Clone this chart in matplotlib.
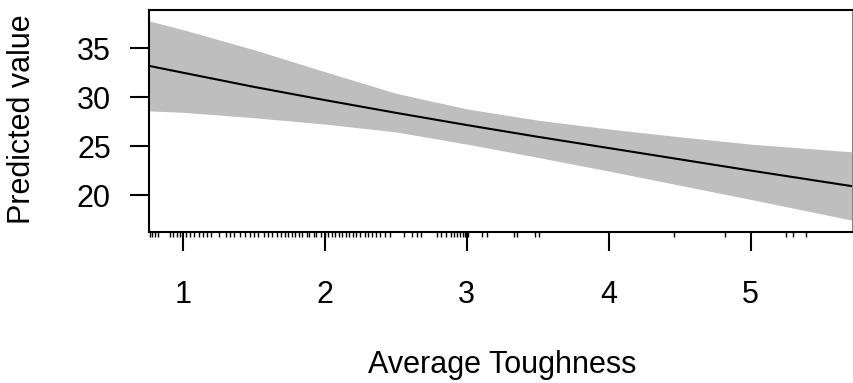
import numpy as np
import matplotlib
matplotlib.use('Agg')
import matplotlib.pyplot as plt

plt.rcParams['font.family'] = ['Liberation Sans', 'DejaVu Sans']

#effect curve for Average Toughness
tough = [0.76, 1.0, 1.5, 2.0, 2.5, 3.0, 3.5, 4.0, 4.5, 5.0, 5.725]
fit = [33.2, 32.5, 31.05, 29.7, 28.4, 27.15, 25.95, 24.8, 23.65, 22.5, 20.88]
upper = [37.8, 36.9, 34.85, 32.6, 30.4, 28.8, 27.65, 26.75, 25.95, 25.2, 24.4]
lower = [28.6, 28.45, 27.9, 27.25, 26.45, 25.2, 23.85, 22.45, 21.0, 19.55, 17.4]

#rug of observed values
rug = [0.77, 0.78, 0.80, 0.82, 0.91, 0.93, 0.96, 0.98, 1.02, 1.05, 1.08, 1.11,
       1.14, 1.17, 1.20, 1.25, 1.30, 1.33, 1.36, 1.40, 1.44, 1.47, 1.50, 1.53,
       1.57, 1.60, 1.63, 1.66, 1.69, 1.72, 1.74, 1.77, 1.79, 1.82, 1.84, 1.87,
       1.89, 1.92, 1.94, 1.97, 2.00, 2.02, 2.05, 2.07, 2.10, 2.12, 2.15, 2.17,
       2.20, 2.22, 2.25, 2.28, 2.30, 2.33, 2.36, 2.39, 2.42, 2.46, 2.56, 2.61,
       2.65, 2.68, 2.79, 2.82, 2.85, 2.89, 2.91, 2.93, 2.95, 2.97, 2.99, 3.01,
       3.11, 3.14, 3.33, 3.35, 3.48, 3.51, 4.46, 4.82, 5.25, 5.30, 5.39]

xticks = [1, 2, 3, 4, 5]
yticks = [20, 25, 30, 35]

fig = plt.figure(figsize=(8.54, 3.83), dpi=100)
ax = fig.add_axes([149/854, 1-232/383, 704.5/854, 222.5/383])

ax.fill_between(tough, lower, upper, color='#bebebe', linewidth=0)
ax.plot(tough, fit, color='black', linewidth=1.5)

#rug just under the box
ax.vlines(rug, -0.022, 0, transform=ax.get_xaxis_transform(),
          color='black', linewidth=1.0, clip_on=False)

ax.set_xlim(0.76, 5.725)
ax.set_ylim(16.22, 38.96)
ax.set_xticks(xticks)
ax.set_yticks(yticks)

for s in ax.spines.values():
    s.set_linewidth(1.5)
ax.spines['right'].set_color('#888888')

ax.tick_params(axis='x', length=13.7, width=1.5, pad=21, labelsize=22)
ax.tick_params(axis='y', length=13.5, width=1.5, pad=14, labelsize=22)

ax.set_xlabel('Average Toughness', fontsize=22, va='center')
ax.xaxis.set_label_coords(0.5007, -0.598)
ax.set_ylabel('Predicted value', fontsize=22, va='center')
ax.yaxis.set_label_coords(-0.180, 0.505)

fig.savefig('out.png', dpi=100)
